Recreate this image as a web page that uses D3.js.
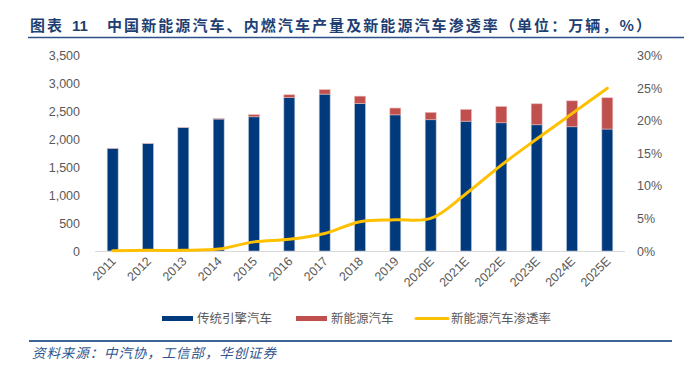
<!DOCTYPE html>
<html>
<head>
<meta charset="utf-8">
<script src="https://cdn.jsdelivr.net/npm/d3@7"></script>
<style>
  body { margin: 0; background: #fff; }
  svg { display: block; }
  text { font-family: "Liberation Sans", Arial, "Noto Sans CJK SC", sans-serif; }
  .cjk { font-family: "Noto Sans CJK SC", sans-serif; }
</style>
</head>
<body>
<svg id="chart" width="689" height="370"></svg>
<script>
// data (万辆, %)
const years = ['2011', '2012', '2013', '2014', '2015', '2016', '2017', '2018', '2019',
    '2020E', '2021E', '2022E', '2023E', '2024E', '2025E']
const iceCars = [1840, 1925, 2210, 2365, 2405, 2748, 2812, 2645, 2440, 2352, 2327, 2298, 2262, 2226, 2186]
const nevCars = [1, 1, 2, 8, 38, 52, 80, 130, 122, 132, 210, 292, 376, 465, 560]
const nevShare = [0.05, 0.1, 0.1, 0.3, 1.4, 1.8, 2.7, 4.5, 4.8, 5.0, 8.8, 13.2, 17.2, 21.1, 25.0]
const leftTicks = [0, 500, 1000, 1500, 2000, 2500, 3000, 3500]
const rightTicks = [0, 5, 10, 15, 20, 25, 30]

const svg = d3.select('#chart')
const labelColor = '#595959'
const blue = '#003a7c'
const red = '#c0504d'
const yellow = '#ffc000'
const titleColor = '#1f3f73'

// title
svg.append('text')
    .attr('class', 'cjk')
    .attr('x', 30)
    .attr('y', 31)
    .attr('fill', titleColor)
    .attr('font-size', 15)
    .attr('font-weight', 'bold')
    .attr('textLength', 32)
    .text('图表')
svg.append('text')
    .attr('x', 72)
    .attr('y', 31)
    .attr('fill', titleColor)
    .attr('font-size', 15)
    .attr('font-weight', 'bold')
    .text('11')
svg.append('text')
    .attr('class', 'cjk')
    .attr('x', 107)
    .attr('y', 31)
    .attr('fill', titleColor)
    .attr('font-size', 15)
    .attr('font-weight', 'bold')
    .attr('textLength', 544)
    .attr('lengthAdjust', 'spacing')
    .text('中国新能源汽车、内燃汽车产量及新能源汽车渗透率（单位：万辆，%）')
svg.append('line')
    .attr('x1', 28).attr('x2', 684)
    .attr('y1', 37.5).attr('y2', 37.5)
    .attr('stroke', '#2c5088')
    .attr('stroke-width', 1.3)

const x = d3.scaleBand()
    .domain(years)
    .range([95, 625])
    .paddingInner(0.69)
    .paddingOuter(0.345)

const y = d3.scaleLinear().domain([0, 3500]).range([251, 55.7])
const y2 = d3.scaleLinear().domain([0, 30]).range([251, 55.7])

// left axis labels
svg.append('g')
    .selectAll('text')
    .data(leftTicks)
    .join('text')
    .attr('x', 80)
    .attr('y', d => y(d) + 4.5)
    .attr('text-anchor', 'end')
    .attr('fill', labelColor)
    .attr('font-size', 12.5)
    .text(d => d3.format(',')(d))

// right axis labels
svg.append('g')
    .selectAll('text')
    .data(rightTicks)
    .join('text')
    .attr('x', 637)
    .attr('y', d => y2(d) + 4.5)
    .attr('fill', labelColor)
    .attr('font-size', 12.5)
    .text(d => d + '%')

// baseline
svg.append('line')
    .attr('x1', 95).attr('x2', 625)
    .attr('y1', 251.5).attr('y2', 251.5)
    .attr('stroke', '#d9d9d9')
    .attr('stroke-width', 1)

// stacked bars
const bars = svg.append('g')
bars.selectAll('.ice')
    .data(years)
    .join('rect')
    .attr('class', 'ice')
    .attr('x', d => x(d))
    .attr('width', x.bandwidth())
    .attr('y', (d, i) => y(iceCars[i]))
    .attr('height', (d, i) => y(0) - y(iceCars[i]))
    .attr('fill', blue)
    .attr('stroke', '#b8c7dc')
    .attr('stroke-width', 0.6)
bars.selectAll('.nev')
    .data(years)
    .join('rect')
    .attr('class', 'nev')
    .attr('x', d => x(d))
    .attr('width', x.bandwidth())
    .attr('y', (d, i) => y(iceCars[i] + nevCars[i]))
    .attr('height', (d, i) => y(iceCars[i]) - y(iceCars[i] + nevCars[i]))
    .attr('fill', red)
    .attr('stroke', '#e6b9b8')
    .attr('stroke-width', 0.6)

// penetration line
const line = d3.line()
    .x((d, i) => x(years[i]) + x.bandwidth() / 2)
    .y(d => y2(d))
    .curve(d3.curveCatmullRom.alpha(0.5))
svg.append('path')
    .datum(nevShare)
    .attr('d', line)
    .attr('fill', 'none')
    .attr('stroke', yellow)
    .attr('stroke-width', 3)
    .attr('stroke-linecap', 'round')

// x labels
svg.append('g')
    .selectAll('text')
    .data(years)
    .join('text')
    .attr('text-anchor', 'end')
    .attr('fill', labelColor)
    .attr('font-size', 12.5)
    .attr('transform', d => `translate(${x(d) + x.bandwidth() / 2 + 4},${262}) rotate(-45)`)
    .text(d => d)

// legend
const legend = [
    { name: '传统引擎汽车', color: blue, x: 162, type: 'rect' },
    { name: '新能源汽车', color: red, x: 296, type: 'rect' },
    { name: '新能源汽车渗透率', color: yellow, x: 416, type: 'line' }
]
const lg = svg.append('g')
legend.forEach(l => {
    if (l.type == 'rect') {
        lg.append('rect')
            .attr('x', l.x).attr('y', 316)
            .attr('width', 31).attr('height', 5)
            .attr('fill', l.color)
    } else {
        lg.append('line')
            .attr('x1', l.x).attr('x2', l.x + 32)
            .attr('y1', 318.5).attr('y2', 318.5)
            .attr('stroke', l.color)
            .attr('stroke-width', 3)
            .attr('stroke-linecap', 'round')
    }
    lg.append('text')
        .attr('class', 'cjk')
        .attr('x', l.x + 35)
        .attr('y', 323)
        .attr('fill', labelColor)
        .attr('font-size', 12.5)
        .text(l.name)
})

// footer
svg.append('line')
    .attr('x1', 29).attr('x2', 672)
    .attr('y1', 341).attr('y2', 341)
    .attr('stroke', '#3e6399')
    .attr('stroke-width', 2)
svg.append('text')
    .attr('class', 'cjk')
    .attr('x', 32)
    .attr('y', 358)
    .attr('fill', '#2e5590')
    .attr('font-size', 13.5)
    .attr('font-style', 'italic')
    .attr('textLength', 244)
    .attr('lengthAdjust', 'spacing')
    .text('资料来源：中汽协，工信部，华创证券')
</script>
</body>
</html>
